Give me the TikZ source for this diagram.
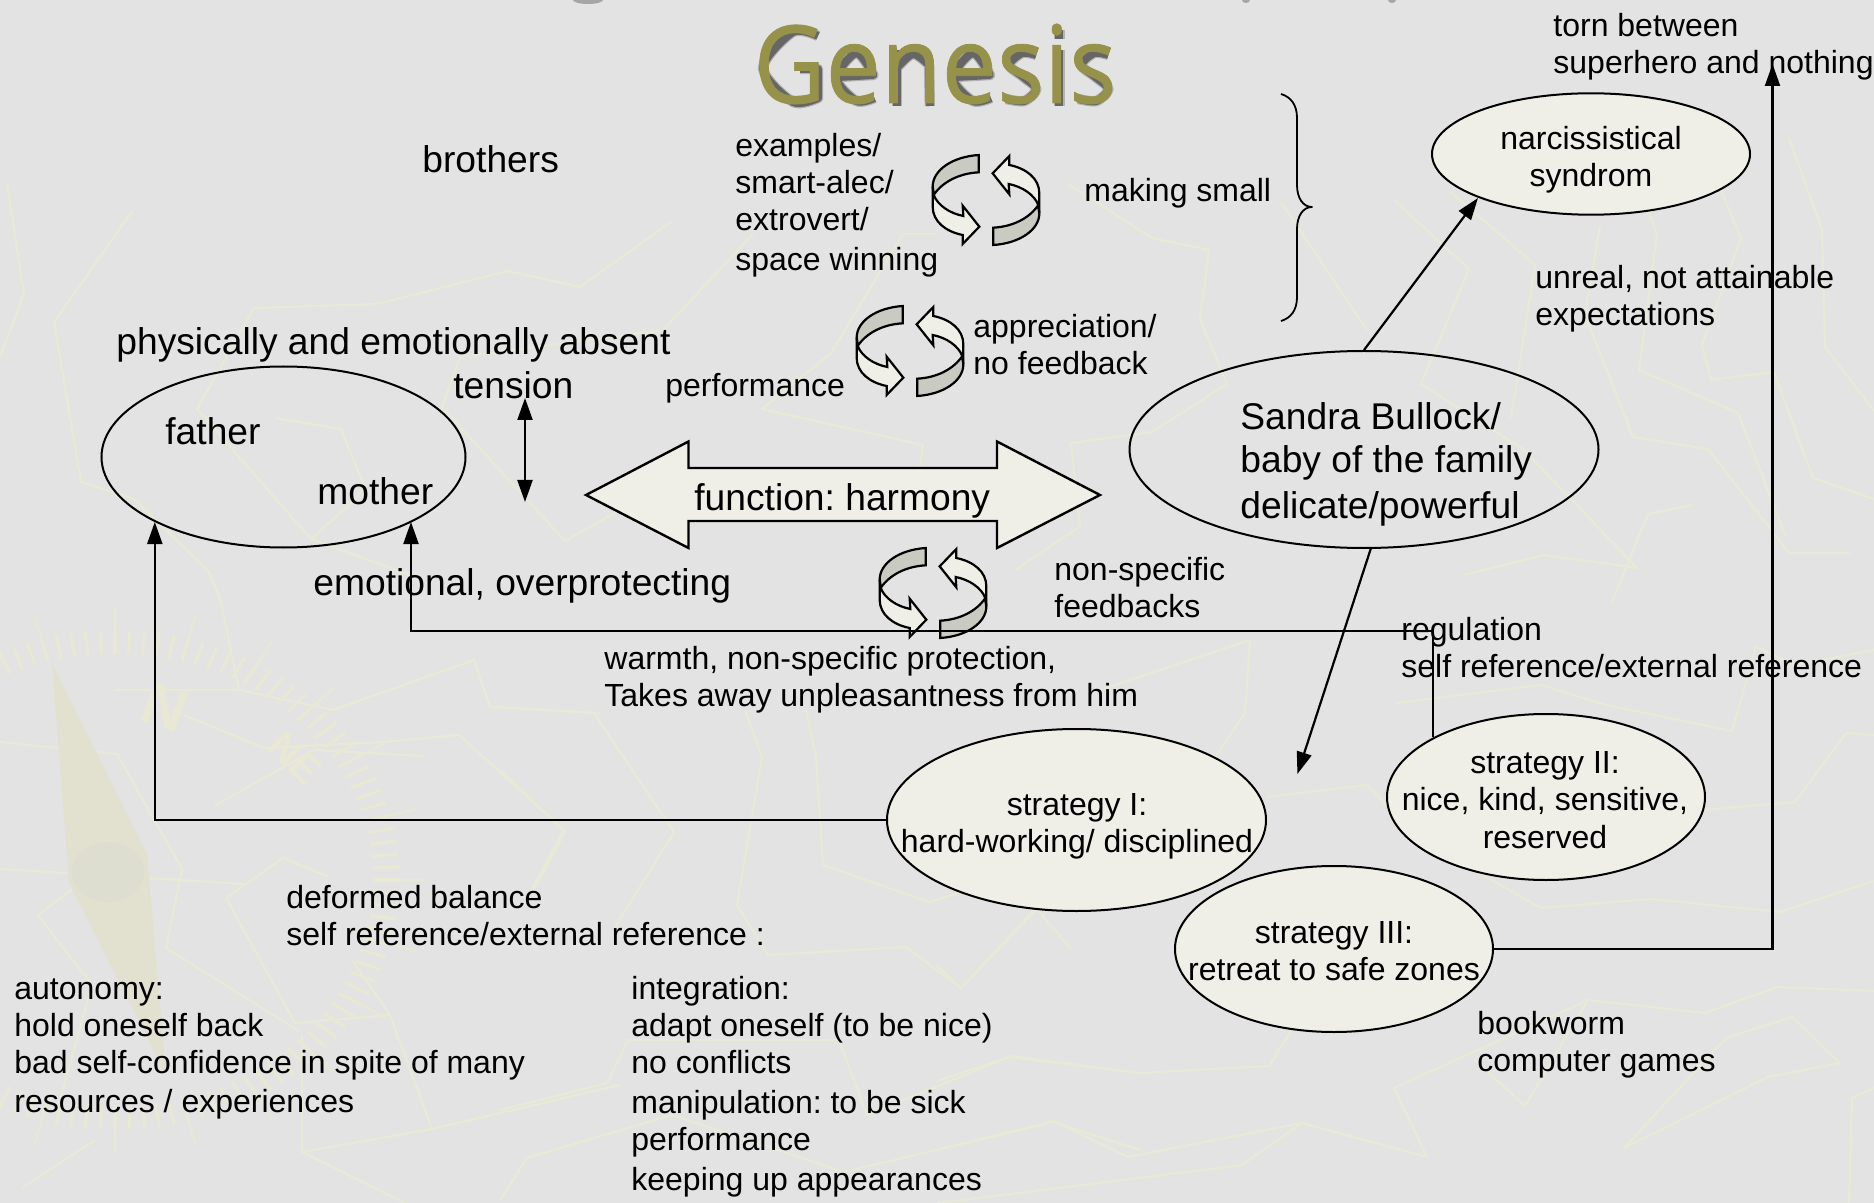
\documentclass[tikz,border=0pt]{standalone}
\usepackage{graphicx}
\usepackage{fontspec}
\setmainfont{Liberation Sans}
\newfontfamily\titlefont[FakeBold=.7]{Open Sans}
\usetikzlibrary{arrows.meta,shapes.geometric}
\frenchspacing
\definecolor{bgc}{HTML}{E3E3E3}
\definecolor{bgl}{HTML}{E9E9D7}
\definecolor{bgt}{HTML}{E8E8D4}
\definecolor{ndl}{HTML}{E2E1CF}
\definecolor{hub}{HTML}{DEDED0}
\definecolor{nodef}{HTML}{EFEFE8}
\definecolor{band}{HTML}{C9CAC2}
\definecolor{ttl}{HTML}{96924A}
\tikzset{
  bgline/.style={draw=bgl,line width=1.1pt,line join=round},
  blob/.style={shape=ellipse,draw=black,line width=1pt,inner sep=0pt},
  filled/.style={fill=nodef},
  sm/.style={anchor=north west,inner sep=0pt,align=left,xshift=-.5pt,yshift=-2pt,font=\fontsize{16}{18.5}\selectfont},
  smc/.style={anchor=north,inner sep=0pt,align=center,yshift=-2.5pt,font=\fontsize{16}{18.5}\selectfont},
  lg/.style={anchor=north west,inner sep=0pt,align=left,xshift=-.5pt,yshift=-2pt,font=\fontsize{18.6}{21}\selectfont},
  conn/.style={draw=black,line width=1.1pt},
  arr/.style={conn,-{Triangle[length=11pt,width=7.5pt]}},
  arrs/.style={conn,{Triangle[length=11pt,width=7.5pt]}-{Triangle[length=11pt,width=7.5pt]}},
  cyc/.style={draw=black,line width=1.1pt,line join=miter},
  faint/.style={text=bgt,font=\fontsize{30}{30}\selectfont\bfseries},
}
\newcommand{\cycarrows}[2]{%
  \begin{scope}[shift={(#1,#2)},scale=1/3]
    \foreach \r in {0,180}{
      \begin{scope}[rotate=\r]
        \draw[cyc,fill=band] (-22,-135) .. controls (-100,-130) and (-160,-90) .. (-160,-40) -- (-157,-15) .. controls (-130,-55) and (-80,-80) .. (-22,-83) -- cycle;
        \draw[cyc,fill=nodef] (-160,-40) -- (-160,20) .. controls (-160,65) and (-120,95) .. (-70,105) -- (-70,132) -- (-20,80) -- (-70,17) -- (-68,48) .. controls (-110,40) and (-145,15) .. (-157,-15) -- cycle;
      \end{scope}
    }
  \end{scope}}
% strokes that follow the letters of the title, for its drop shadow
\newcommand{\ttlstrokes}[2]{%
  \begin{scope}[shift={(3,3)},every path/.style={draw=#1,line width=#2,line join=round}]
    \draw plot[smooth] coordinates {(815,33) (790,29) (760,65) (790,99) (815,95)} -- (815,66) -- (797,66);
    \foreach \b in {825.4,941.9}{
      \draw plot[smooth] coordinates {(\b+46,95) (\b+28,98) (\b+8,75) (\b+28,50) (\b+45,72)} -- (\b+10,74);
    }
    \draw (893.8,47) -- (893.8,103);
    \draw plot[smooth] coordinates {(893.8,65) (910,51) (926,62)} -- (926.8,103);
    \foreach \b in {997.3,1069.4}{
      \draw plot[smooth] coordinates {(\b+36,52) (\b+22,50) (\b+9,62) (\b+23,74) (\b+36,86) (\b+24,98) (\b+6,96)};
    }
    \draw (1056.4,47) -- (1056.4,103);
    \draw (1056.4,27) -- (1056.4,36);
  \end{scope}}
\begin{document}
\begin{tikzpicture}[x=.5pt,y=-.5pt]
\useasboundingbox (0,0) rectangle (1874,1203);
\fill[bgc] (0,0) rectangle (1874,1203);
\begin{scope}
\clip (0,0) rectangle (1874,1203);
% background map lines
\draw[bgline] (7,184) -- (24,294) -- (0,357);
\draw[bgline] (133,210) -- (54,322) -- (81,482) -- (134,499) -- (209,572) -- (221,602) -- (239,690);
\draw[bgline] (671,222) -- (580,287) -- (508,271) -- (377,304) -- (254,308) -- (197,409) -- (311,539) -- (412,576);
\draw[bgline] (275,418) -- (341,429) -- (365,488) -- (347,507) -- (311,539);
\draw[bgline] (753,234) -- (663,330) -- (460,357) -- (442,407) -- (565,541) -- (620,510);
\draw[bgline] (937,234) -- (903,234) -- (831,353) -- (762,409) -- (923,445) -- (915,499);
\draw[bgline] (1068,184) -- (1152,238) -- (1209,250) -- (1200,319) -- (1227,384) -- (1152,432) -- (1071,443) -- (1080,526) -- (1015,570);
\draw[bgline] (1281,202) -- (1367,330);
\draw[bgline] (1394,200) -- (1469,269) -- (1421,384) -- (1523,449) -- (1637,568) -- (1544,555) -- (1463,575);
\draw[bgline] (1451,192) -- (1535,265) -- (1511,418);
\draw[bgline] (1600,226) -- (1585,315) -- (1633,437) -- (1708,449) -- (1789,553) -- (1850,553);
\draw[bgline] (1648,211) -- (1657,234) -- (1639,370) -- (1738,413) -- (1786,537);
\draw[bgline] (1720,188) -- (1741,238) -- (1702,345) -- (1711,380) -- (1774,372) -- (1813,478) -- (1874,499);
\draw[bgline] (1789,138) -- (1822,230) -- (1825,347) -- (1874,411);
\draw[bgline] (1693,505) -- (1648,514) -- (1612,602);
% lower right
\draw[bgline] (937,1150) -- (1054,1121) -- (1128,1157) -- (1302,1123) -- (1427,1157) -- (1394,1088) -- (1588,1000) -- (1705,1013) -- (1777,987) -- (1874,991);
\draw[bgline] (937,1203) -- (1242,1165) -- (1302,1123);
\draw[bgline] (937,1081) -- (1012,1056) -- (1140,1073) -- (1269,1066) -- (1296,1023) -- (1340,1000);
\draw[bgline] (1475,1060) -- (1525,1106) -- (1588,1000);
\draw[bgline] (1624,1148) -- (1768,1077) -- (1840,1063) -- (1792,1017) -- (1726,1038) -- cycle;
\draw[bgline] (1849,1203) -- (1852,1098) -- (1874,1088);
\draw[bgline] (1072,950) -- (1036,908) -- (961,988) -- (937,966);
\draw[bgline] (1541,908) -- (1445,854) -- (1541,908) -- (1651,899) -- (1780,912) -- (1874,881);
\draw[bgline] (1397,703) -- (1541,685) -- (1606,705) -- (1732,731) -- (1756,647) -- (1795,665) -- (1874,650);
\draw[bgline] (1704,810) -- (1795,802) -- (1846,733) -- (1874,735);
\draw[bgline] (1266,797) -- (1367,785) -- (1427,847);
\draw[bgline] (1100,690) -- (1250,640) -- (1245,713) -- (1200,780);
% lower left / centre
\draw[bgline] (500,707) -- (594,713) -- (674,832) -- (615,927);
\draw[bgline] (500,770) -- (565,832) -- (534,890);
\draw[bgline] (745,710) -- (762,757) -- (737,905) -- (768,955) -- (906,947) -- (961,988) -- (1036,910);
\draw[bgline] (806,710) -- (816,757) -- (823,865) -- (929,902) -- (959,893);
\draw[bgline] (500,1110) -- (607,1083) -- (628,1040) -- (839,1040) -- (867,1115) -- (1009,1057) -- (1140,1073);
\draw[bgline] (500,1200) -- (527,1158) -- (672,1115) -- (844,1172) -- (1053,1122) -- (1140,1150);
\draw[bgline] (0,869) -- (245,884);
\draw[bgline] (226,898) -- (283,858) -- (329,877);
\draw[bgline] (226,898) -- (295,1023) -- (390,1015) -- (352,960);
\draw[bgline] (115,690) -- (239,690) -- (333,710) -- (474,660) -- (490,707) -- (600,713);
\draw[bgline] (0,742) -- (117,754) -- (182,869) -- (166,948) -- (299,1031);
\draw[bgline] (184,715) -- (264,748) -- (383,742) -- (459,735) -- (564,830) -- (528,896);
\draw[bgline] (214,806) -- (314,750) -- (425,756);
\draw[bgline] (38,915) -- (115,857) -- (38,915) -- (92,985) -- (60,1100);
\draw[bgline] (390,1015) -- (432,1129) -- (620,1085);
\draw[bgline] (302,1035) -- (302,1152) -- (432,1129);
\draw[bgline] (302,1152) -- (405,1203);
\draw[bgline] (22,1188) -- (95,1140);
% compass ring
\foreach \a in {0,3,...,357}{
  \draw[bgt,line width=1.6pt] ({115+285*cos(\a)},{880+250*sin(\a)}) -- ({115+258*cos(\a)},{880+226*sin(\a)});
}
\foreach \a in {0,15,...,345}{
  \draw[bgt,line width=.9pt] ({115+312*cos(\a)},{880+274*sin(\a)}) -- ({115+285*cos(\a)},{880+250*sin(\a)});
}
\node[faint,rotate=-20] (compn) at (165,708) {N};
\node[faint,rotate=-45,font=\fontsize{20}{20}\selectfont\bfseries] (compne) at (295,758) {NE};
% compass needle
\fill[ndl] (52,663) -- (147,854) -- (166,1075) -- (69,883) -- cycle;
\fill[hub] (108,872) ellipse (36 and 30);
\end{scope}
% cut-off heading specks
\begin{scope}
\clip (0,0) rectangle (1874,1203);
\fill[gray!70] (588,0) ellipse (15 and 4);
\fill[gray!70] (1246,0) ellipse (4 and 3);
\fill[gray!70] (1392,0) ellipse (4 and 3);
\end{scope}
% title drop shadow, drawn behind the one text
\ttlstrokes{black!30}{5.2pt}
\ttlstrokes{black!60}{4pt}
% title
\node[anchor=base,inner sep=0pt,text=ttl] (title) at (935,103) {\titlefont\fontsize{54}{54}\selectfont\scalebox{.915}[1]{Genesis}};
% cycle arrows
\cycarrows{986}{200}
\cycarrows{910}{351}
\cycarrows{933}{593}
% brace
\coordinate (brt) at (1281,94);
\coordinate (brb) at (1281,321);
\draw[conn,line width=.9pt,line join=round] (brt) .. controls (1291,97) and (1297,105) .. (1297,118) -- (1297,185) .. controls (1297,198) and (1303,207) .. (1312,207) .. controls (1303,207) and (1297,216) .. (1297,229) -- (1297,297) .. controls (1297,310) and (1291,318) .. (brb);
% double arrow
\draw[black,line width=1.2pt,fill=nodef,line join=miter] (586,495) -- (688.5,441.5) -- (688.5,468) -- (997,468) -- (997,441.5) -- (1100,495) -- (997,548) -- (997,521) -- (688.5,521) -- (688.5,548) -- cycle;
% nodes
\node[blob,minimum width=182pt,minimum height=90.5pt] (parents) at (283.5,457) {};
\node[blob,minimum width=234.5pt,minimum height=98.5pt] (sandra) at (1364,449.5) {};
\node[blob,filled,minimum width=159pt,minimum height=60.7pt] (narc) at (1591,154) {};
\node[blob,filled,minimum width=189.5pt,minimum height=91pt] (stI) at (1076.5,820) {};
\node[blob,filled,minimum width=159pt,minimum height=83pt] (stII) at (1546,797) {};
\node[blob,filled,minimum width=159pt,minimum height=83pt] (stIII) at (1334,949) {};
% connector ends
\coordinate (fatherin) at (154.8,522);
\coordinate (motherin) at (411,522);
\coordinate (motherbend) at (411,631);
\coordinate (stIIout) at (1433,737);
\coordinate (torn) at (1772.5,64);
\coordinate (narcin) at (1478,198);
\coordinate (sandraout) at (1371,548);
\coordinate (stIin) at (1297.4,774);
\coordinate (tensiontop) at (525,398);
\coordinate (tensionbot) at (525,502);
\draw[arr] (stI.west) -| (fatherin);
\draw[arr] (stIIout) |- (motherbend) -- (motherin);
\draw[arr] (stIII.east) -| (torn);
\draw[arr] (sandra.north) -- (narcin);
\draw[arr] (sandraout) -- (stIin);
\draw[arrs] (tensiontop) -- (tensionbot);
% large text
\node[lg] (brothers) at (423,141.6) {brothers};
\node[lg] (absent) at (117,323.6) {physically and emotionally absent};
\node[lg] (tension) at (454,367.6) {tension};
\node[lg] (father) at (166,413.6) {father};
\node[lg] (mother) at (318,473.6) {mother};
\node[lg] (overprot) at (314,564.6) {emotional, overprotecting};
\node[lg] (harmony) at (695,479.6) {function: harmony};
\node[lg] (sandratxt) at (1241,398.6) {Sandra Bullock/\\[.5pt]baby of the family\\[2pt]delicate/powerful};
% small text
\node[sm] (examples) at (736,129.1) {examples/\\smart-alec/\\extrovert/\\[1.5pt]space winning};
\node[sm] (making) at (1085,174.1) {making small};
\node[sm] (apprec) at (974,310.1) {appreciation/\\no feedback};
\node[sm] (perf) at (666,369.1) {performance};
\node[sm] (tornt) at (1554,9.1) {torn between\\superhero and nothing};
\node[smc] (narct) at (1591,121.1) {narcissistical\\syndrom};
\node[sm] (unreal) at (1536,261.1) {unreal, not attainable\\expectations};
\node[sm] (nonspec) at (1055,553.1) {non-specific\\feedbacks};
\node[sm] (warmth) at (605,642.1) {warmth, non-specific protection,\\Takes away unpleasantness from him};
\node[sm] (regul) at (1402,613.1) {regulation\\self reference/external reference};
\node[smc] (stIIt) at (1545,746.1) {strategy II:\\nice, kind, sensitive,\\[.7pt]reserved};
\node[smc] (stIt) at (1077,788.1) {strategy I:\\hard-working/ disciplined};
\node[smc] (stIIIt) at (1334,915.6) {strategy III:\\retreat to safe zones};
\node[sm] (bookw) at (1478,1007.1) {bookworm\\computer games};
\node[sm] (deformed) at (287,880.6) {deformed balance\\self reference/external reference :};
\node[sm] (autonomy) at (15,974) {autonomy:\\hold oneself back\\[.4pt]bad self-confidence in spite of many\\[1pt]resources / experiences};
\node[sm] (integr) at (632,971.6) {integration:\\adapt oneself (to be nice)\\[.4pt]no conflicts\\[1.4pt]manipulation: to be sick\\performance\\[1.6pt]keeping up appearances};
\end{tikzpicture}
\end{document}
